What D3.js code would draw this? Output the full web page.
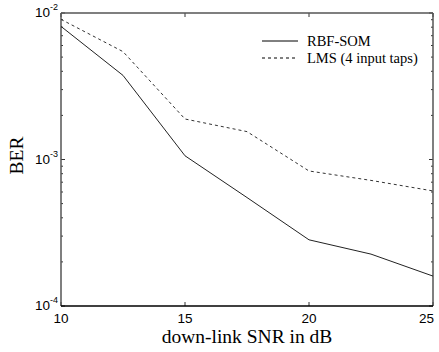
<!DOCTYPE html>
<html>
<head>
<meta charset="utf-8">
<script src="https://cdn.jsdelivr.net/npm/d3@7"></script>
<style>
  body { margin: 0; background: #fff; }
  svg { display: block; }
</style>
</head>
<body>
<div id="chart"></div>
<script>
const snr = [10, 12.5, 15, 17.5, 20, 22.5, 25];
const rbfSom = [8.1e-3, 3.75e-3, 1.06e-3, 5.5e-4, 2.83e-4, 2.26e-4, 1.6e-4];
const lms = [9.05e-3, 5.45e-3, 1.89e-3, 1.55e-3, 8.35e-4, 7.2e-4, 6.1e-4];
const xTicks = [10, 15, 20, 25];
const yDecades = [1e-2, 1e-3, 1e-4];
const yExp = ["-2", "-3", "-4"];

const W = 439, H = 352;
const margin = { top: 13, right: 6, bottom: 46, left: 61 };
const iw = W - margin.left - margin.right;
const ih = H - margin.top - margin.bottom;

const svg = d3.select("#chart").append("svg")
  .attr("width", W).attr("height", H);

const x = d3.scaleLinear().domain([10, 25]).range([0, iw]);
const y = d3.scaleLog().domain([1e-4, 1e-2]).range([ih, 0]);

const g = svg.append("g")
  .attr("transform", `translate(${margin.left},${margin.top})`);

// minor ticks on log axis
const minor = [];
[1e-4, 1e-3].forEach(d => { for (let k = 2; k <= 9; k++) minor.push(d * k); });

g.selectAll(".ytl").data(yDecades.concat(minor)).join("line")
  .attr("x1", 0).attr("x2", d => yDecades.includes(d) ? 4 : 2)
  .attr("y1", d => y(d)).attr("y2", d => y(d))
  .attr("stroke", "#333");
g.selectAll(".ytr").data(yDecades.concat(minor)).join("line")
  .attr("x1", iw).attr("x2", d => iw - (yDecades.includes(d) ? 4 : 2))
  .attr("y1", d => y(d)).attr("y2", d => y(d))
  .attr("stroke", "#333");

g.selectAll(".xtb").data(xTicks).join("line")
  .attr("x1", d => x(d)).attr("x2", d => x(d))
  .attr("y1", ih).attr("y2", ih - 4).attr("stroke", "#333");
g.selectAll(".xtt").data(xTicks).join("line")
  .attr("x1", d => x(d)).attr("x2", d => x(d))
  .attr("y1", 0).attr("y2", 4).attr("stroke", "#333");

// frame
g.append("line").attr("x1", 0).attr("x2", iw).attr("y1", 0).attr("y2", 0)
  .attr("stroke", "#555").attr("stroke-width", 1.5);
g.append("line").attr("x1", 0).attr("x2", 0).attr("y1", 0).attr("y2", ih)
  .attr("stroke", "#555").attr("stroke-width", 1.5);
g.append("line").attr("x1", iw).attr("x2", iw).attr("y1", 0).attr("y2", ih)
  .attr("stroke", "#555").attr("stroke-width", 1.5);
g.append("line").attr("x1", 0).attr("x2", iw).attr("y1", ih).attr("y2", ih)
  .attr("stroke", "#000").attr("stroke-width", 1.5);

// tick labels (last one kept inside the window)
g.selectAll(".xlab").data(xTicks).join("text")
  .attr("x", (d, i) => i === xTicks.length - 1 ? x(d) + 1 : x(d))
  .attr("y", ih + 17)
  .attr("text-anchor", (d, i) => i === xTicks.length - 1 ? "end" : "middle")
  .style("font-family", "Liberation Sans, Arial, sans-serif")
  .style("font-size", "13.5px")
  .text(d => d);

const yl = g.selectAll(".ylab").data(yDecades).join("text")
  .attr("x", -3).attr("y", d => y(d) + 4)
  .attr("text-anchor", "end")
  .style("font-family", "Liberation Sans, Arial, sans-serif")
  .style("font-size", "13.5px");
yl.append("tspan").text("10");
yl.append("tspan").attr("dy", -7).style("font-size", "9px").text((d, i) => yExp[i]);

// axis titles
svg.append("text")
  .attr("x", margin.left + iw / 2).attr("y", 343)
  .attr("text-anchor", "middle")
  .style("font-family", "Liberation Serif, Times New Roman, serif")
  .style("font-size", "19.5px")
  .text("down-link SNR in dB");

svg.append("text")
  .attr("transform", `translate(23,${margin.top + ih / 2 - 4}) rotate(-90)`)
  .attr("text-anchor", "middle")
  .style("font-family", "Liberation Serif, Times New Roman, serif")
  .style("font-size", "19.5px")
  .text("BER");

// lines
const line = d3.line().x((d, i) => x(snr[i])).y(d => y(d));
g.append("path").datum(rbfSom).attr("d", line)
  .attr("fill", "none").attr("stroke", "#222").attr("stroke-width", 1);
g.append("path").datum(lms).attr("d", line)
  .attr("fill", "none").attr("stroke", "#333").attr("stroke-width", 1)
  .attr("stroke-dasharray", "3,3");

// legend
const legend = [
  { name: "RBF-SOM", dash: null },
  { name: "LMS (4 input taps)", dash: "3,3" }
];
const lg = svg.append("g").attr("transform", "translate(262,41)");
legend.forEach((d, i) => {
  lg.append("line").attr("x1", 0).attr("x2", 36)
    .attr("y1", i * 17).attr("y2", i * 17)
    .attr("stroke", "#000").attr("stroke-width", 1)
    .attr("stroke-dasharray", d.dash);
  lg.append("text").attr("x", 45).attr("y", i * 17 + 5)
    .style("font-family", "Liberation Serif, Times New Roman, serif")
    .style("font-size", "14.5px")
    .text(d.name);
});
</script>
</body>
</html>
